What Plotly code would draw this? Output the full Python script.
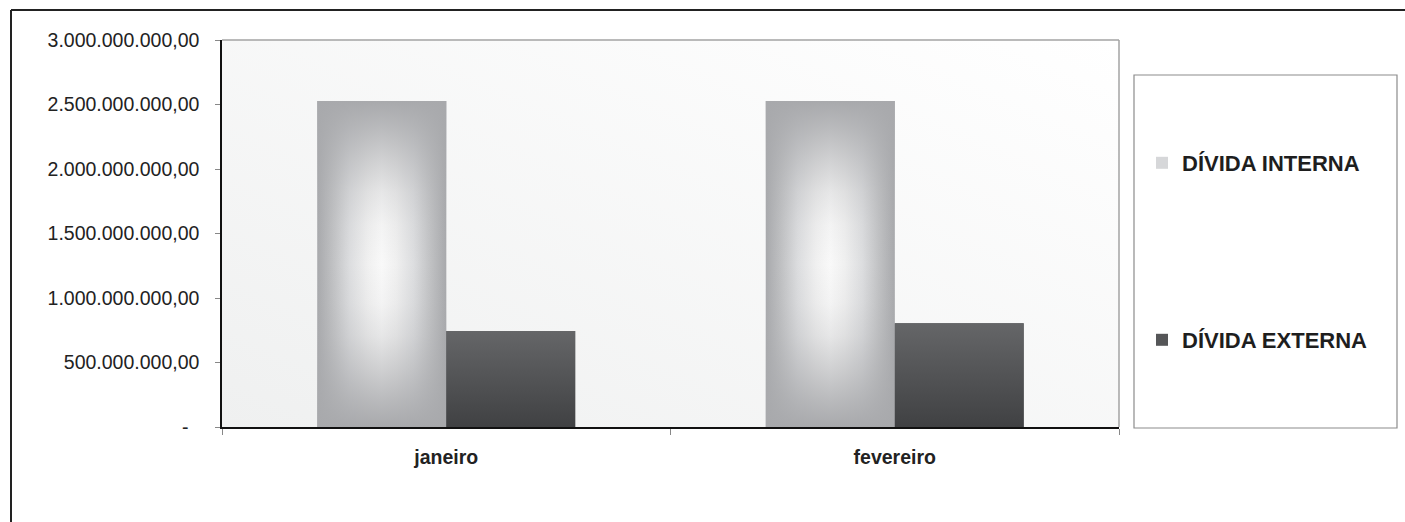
import base64
import plotly.graph_objects as go

# ---- data ----
categories = ["janeiro", "fevereiro"]
divida_interna = [2527000000, 2527000000]
divida_externa = [744000000, 804000000]
series_names = ["DÍVIDA INTERNA", "DÍVIDA EXTERNA"]
y_tick_values = [0, 500000000, 1000000000, 1500000000, 2000000000, 2500000000, 3000000000]
y_tick_labels = ["-\u00a0\u00a0", "500.000.000,00", "1.000.000.000,00", "1.500.000.000,00",
                 "2.000.000.000,00", "2.500.000.000,00", "3.000.000.000,00"]

FONT = "Liberation Sans, Arial, sans-serif"
BARGAP = 0.425
W = (1 - BARGAP) / 2
xpos = list(range(len(categories)))

fig = go.Figure()

# flat bars (also provide legend entries)
fig.add_trace(go.Bar(
    x=xpos, y=divida_interna, name=series_names[0], width=W, offset=-W,
    marker=dict(color="#d6d7d9", line=dict(width=0)), legend="legend",
))
fig.add_trace(go.Bar(
    x=xpos, y=divida_externa, name=series_names[1], width=W, offset=0,
    marker=dict(color="#555658", line=dict(width=0)), legend="legend2",
))

# "from center" shading over the light bars: horizontal ramp + vertical edge darkening
h_scale = [[0.0, "#a8a9ac"], [0.12, "#c0c1c3"], [0.25, "#dcdddf"], [0.39, "#f0f0f0"],
           [0.5, "#f9f9f9"], [0.61, "#f0f0f0"], [0.75, "#dcdddf"], [0.88, "#c0c1c3"],
           [1.0, "#a8a9ac"]]
v_scale = [[0.0, "rgba(168,169,172,1)"], [0.08, "rgba(168,169,172,0.79)"],
           [0.18, "rgba(168,169,172,0.5)"], [0.28, "rgba(168,169,172,0.23)"],
           [0.38, "rgba(168,169,172,0.07)"], [0.5, "rgba(168,169,172,0)"],
           [0.62, "rgba(168,169,172,0.07)"], [0.72, "rgba(168,169,172,0.23)"],
           [0.82, "rgba(168,169,172,0.5)"], [0.92, "rgba(168,169,172,0.79)"],
           [1.0, "rgba(168,169,172,1)"]]
for i, v in zip(xpos, divida_interna):
    for kind, scale in (("horizontal", h_scale), ("vertical", v_scale)):
        fig.add_trace(go.Scatter(
            x=[i - W, i, i, i - W, i - W], y=[0, 0, v, v, 0],
            mode="lines", fill="toself", line=dict(width=0, color="rgba(0,0,0,0)"),
            fillgradient=dict(type=kind, colorscale=scale),
            hoverinfo="skip", showlegend=False,
        ))
for i, v in zip(xpos, divida_externa):
    fig.add_trace(go.Scatter(
        x=[i, i + W, i + W, i, i], y=[0, 0, v, v, 0],
        mode="lines", fill="toself", line=dict(width=0, color="rgba(0,0,0,0)"),
        fillgradient=dict(type="vertical", colorscale=[[0.0, "#404143"], [1.0, "#656668"]]),
        hoverinfo="skip", showlegend=False,
    ))

# plot-area background gradient
svg = ('<svg xmlns="http://www.w3.org/2000/svg" width="100" height="100" preserveAspectRatio="none">'
       '<defs><linearGradient id="g" x1="0" y1="1" x2="1" y2="0">'
       '<stop offset="0" stop-color="#eff0f0"/><stop offset="1" stop-color="#ffffff"/>'
       '</linearGradient></defs><rect width="100" height="100" fill="url(#g)"/></svg>')
src = "data:image/svg+xml;base64," + base64.b64encode(svg.encode()).decode()

L, R, T, B = 222, 1405 - 1119, 40, 522 - 427
PW, PH = 1405 - L - R, 522 - T - B


def px(x):
    return (x - L) / PW


def py(y):
    return (522 - B - y) / PH


shapes = [
    # light frame top/right of plot area
    dict(type="line", xref="paper", yref="paper", x0=0, x1=1, y0=1, y1=1,
         line=dict(color="#a3a3a3", width=1.5), layer="above"),
    dict(type="line", xref="paper", yref="paper", x0=1, x1=1, y0=0, y1=1,
         line=dict(color="#a3a3a3", width=1.5), layer="above"),
    # legend box
    dict(type="rect", xref="paper", yref="paper", x0=px(1134), x1=px(1397), y0=py(428), y1=py(75),
         line=dict(color="#8c8c8c", width=1.2), fillcolor="rgba(0,0,0,0)"),
    # outer chart border (top & left)
    dict(type="line", xref="paper", yref="paper", x0=px(11), x1=px(1406), y0=py(10), y1=py(10),
         line=dict(color="#222222", width=2)),
    dict(type="line", xref="paper", yref="paper", x0=px(11), x1=px(11), y0=py(10), y1=py(523),
         line=dict(color="#222222", width=2)),
]

fig.update_layout(
    width=1405, height=522,
    margin=dict(l=L, r=R, t=T, b=B),
    paper_bgcolor="white", plot_bgcolor="#f9f9f9",
    barmode="overlay", bargap=BARGAP,
    font=dict(family=FONT, color="#222222"),
    images=[dict(source=src, xref="paper", yref="paper", x=0, y=1, sizex=1, sizey=1,
                 sizing="stretch", layer="below")],
    shapes=shapes,
    showlegend=True,
    legend=dict(x=px(1142), y=py(163), xanchor="left", yanchor="middle",
                bgcolor="rgba(0,0,0,0)", borderwidth=0,
                font=dict(family=FONT, size=22, weight="bold", color="#1e1e1e")),
    legend2=dict(x=px(1142), y=py(340), xanchor="left", yanchor="middle",
                 bgcolor="rgba(0,0,0,0)", borderwidth=0,
                 font=dict(family=FONT, size=22, weight="bold", color="#1e1e1e")),
    xaxis=dict(
        range=[-0.5, len(categories) - 0.5], tickmode="array", tickvals=xpos, ticktext=categories,
        ticks="", showgrid=False, zeroline=False, showline=True, linecolor="#111111", linewidth=2,
        tickfont=dict(family=FONT, size=19.5, weight="bold", color="#222222"),
        ticklabelstandoff=12,
        minor=dict(tickmode="array", tickvals=[i - 0.5 for i in range(len(categories) + 1)],
                   ticks="outside", ticklen=6, tickcolor="#888888", tickwidth=1, showgrid=False),
        fixedrange=True,
    ),
    yaxis=dict(
        range=[0, 3000000000], tickmode="array", tickvals=y_tick_values, ticktext=y_tick_labels,
        ticks="outside", ticklen=5, tickcolor="#888888", tickwidth=1,
        showgrid=False, zeroline=False, showline=True, linecolor="#111111", linewidth=1.5,
        tickfont=dict(family=FONT, size=19.5, color="#222222"),
        ticklabelstandoff=12, fixedrange=True,
    ),
)

fig.write_html("out.html", config={"displayModeBar": False},
               post_script="document.body.style.margin='0';document.body.style.overflow='hidden';")
